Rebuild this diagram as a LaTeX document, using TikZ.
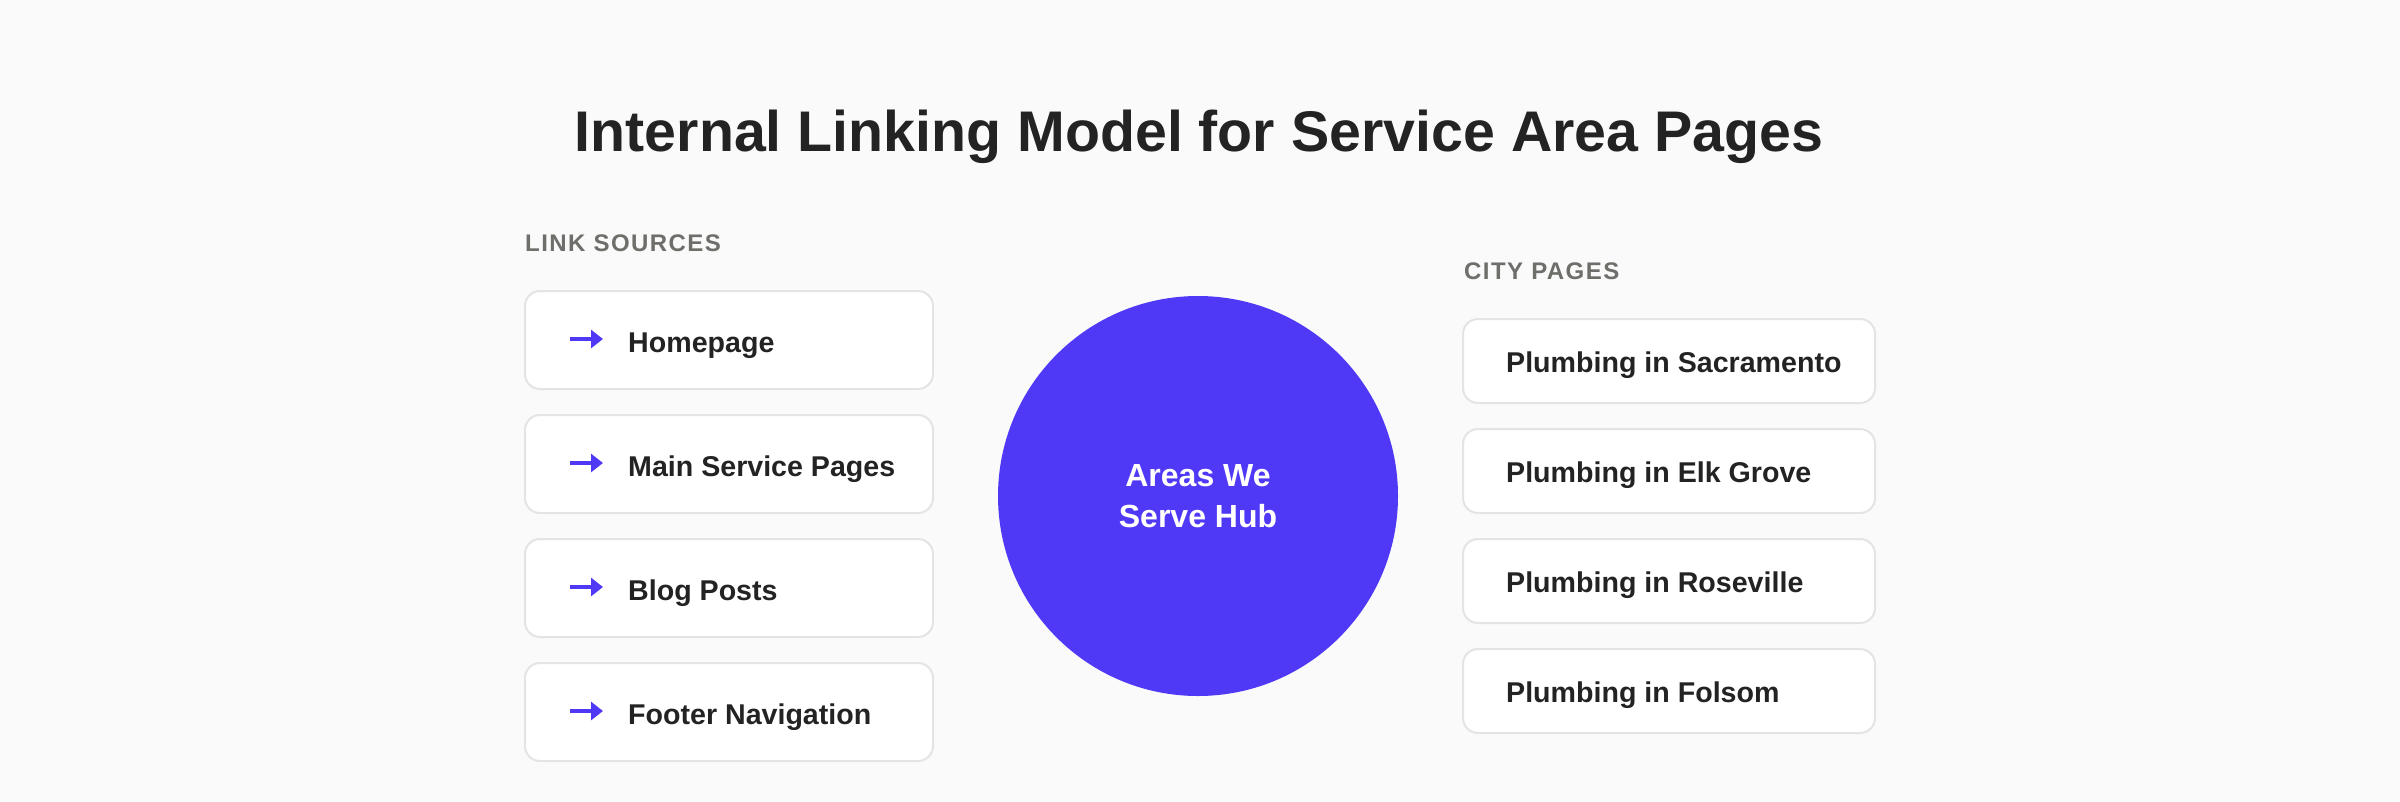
\documentclass[tikz,border=0pt]{standalone}
\usepackage{fontspec}
\setmainfont{Liberation Sans}
\usetikzlibrary{arrows.meta}
\definecolor{bg}{HTML}{FAFAFA}
\definecolor{hub}{HTML}{4F39F6}
\definecolor{ink}{HTML}{232323}
\definecolor{muted}{HTML}{6E6E6A}
\definecolor{edge}{HTML}{E4E4E4}
\begin{document}
\begin{tikzpicture}[x=1pt,y=-1pt,
  card/.style={draw=edge,line width=2pt,fill=white,rounded corners=15pt,inner sep=0pt},
  srccard/.style={card,minimum width=408pt,minimum height=98pt},
  citycard/.style={card,minimum width=412pt,minimum height=84pt},
  cardtext/.style={anchor=base west,inner sep=0pt,text=ink,font=\fontsize{28.6}{34}\selectfont\bfseries},
  seclabel/.style={anchor=west,inner sep=0pt,text=muted,font=\fontsize{24}{28}\selectfont\bfseries\addfontfeatures{LetterSpace=6}},
  icon/.style={draw=hub,line width=3.5pt,-{Triangle[length=12pt,width=18pt]}}
]
\useasboundingbox (0,0) rectangle (2400,801);
\fill[bg] (0,0) rectangle (2400,801);

\node[anchor=base,inner sep=0pt,text=ink,font=\fontsize{57.3}{66}\selectfont\bfseries] (title) at (1199,151) {Internal Linking Model for Service Area Pages};

\node[seclabel] (srclabel) at (525,243) {LINK SOURCES};
\node[seclabel] (citylabel) at (1464,271) {CITY PAGES};

\foreach \i/\y/\t in {1/340/Homepage,2/464/Main Service Pages,3/588/Blog Posts,4/712/Footer Navigation}{
  \node[srccard] (s\i) at (729,\y) {};
  \node[cardtext] (st\i) at (628,\y+12) {\t};
  \coordinate (sa\i) at (570,\y-1);
  \coordinate (sb\i) at (603,\y-1);
  \draw[icon] (sa\i) -- (sb\i);
}

\foreach \i/\y/\t in {1/361/Plumbing in Sacramento,2/471/Plumbing in Elk Grove,3/581/Plumbing in Roseville,4/691/Plumbing in Folsom}{
  \node[citycard] (c\i) at (1669,\y) {};
  \node[cardtext] (ct\i) at (1506,\y+11) {\t};
}

\node[circle,fill=hub,minimum size=400pt,inner sep=0pt,text=white,align=center,
  font=\fontsize{32}{41}\selectfont\bfseries] (hubnode) at (1198,496) {Areas We\\Serve Hub};
\end{tikzpicture}
\end{document}
